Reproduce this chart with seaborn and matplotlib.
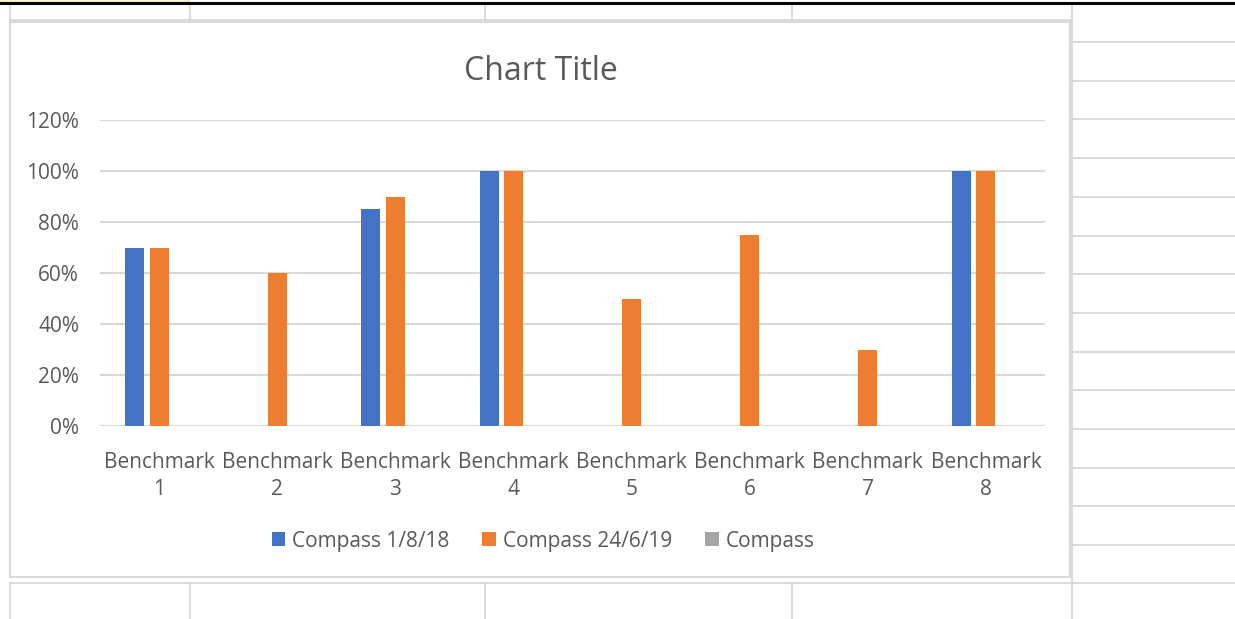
import numpy as np
import pandas as pd
import matplotlib
matplotlib.use('Agg')
import matplotlib.pyplot as plt
import seaborn as sns
from matplotlib.lines import Line2D
from matplotlib.patches import Rectangle
from matplotlib.ticker import PercentFormatter

# data
categories = ['Benchmark\n1', 'Benchmark\n2', 'Benchmark\n3', 'Benchmark\n4',
              'Benchmark\n5', 'Benchmark\n6', 'Benchmark\n7', 'Benchmark\n8']
compass_1_8_18 = [0.70, np.nan, 0.85, 1.00, np.nan, np.nan, np.nan, 1.00]
compass_24_6_19 = [0.70, 0.60, 0.90, 1.00, 0.50, 0.75, 0.30, 1.00]
compass = [np.nan] * 8
series_names = ['Compass 1/8/18', 'Compass 24/6/19', 'Compass']
series_colors = ['#4472C4', '#ED7D31', '#A5A5A5']

W, H = 1235, 619


def px(x, y):
    # pixel coords (top-left origin) -> figure fraction
    return x / W, 1 - y / H


def sheet_line(fig, x0, y0, x1, y1, color='#d4d4d4', lw=1.2, z=0):
    a = px(x0, y0)
    b = px(x1, y1)
    fig.add_artist(Line2D([a[0], b[0]], [a[1], b[1]], color=color, lw=lw,
                          transform=fig.transFigure, zorder=z))


def main():
    df = pd.DataFrame({
        'category': categories * 3,
        'series': np.repeat(series_names, len(categories)),
        'value': compass_1_8_18 + compass_24_6_19 + compass,
    })

    sns.set_style('white')
    plt.rcParams['font.family'] = ['Open Sans', 'DejaVu Sans']

    fig = plt.figure(figsize=(W / 100, H / 100), dpi=100)

    # spreadsheet background
    fig.add_artist(Rectangle(px(0, 3), 190 / W, 3 / H, transform=fig.transFigure,
                             facecolor='#fdf0c8', edgecolor='none', zorder=0))
    sheet_line(fig, 0, 3, W, 3, color='black', lw=2.2, z=1)
    for x in [10, 190, 485, 792]:
        sheet_line(fig, x, 3, x, 20)
        sheet_line(fig, x, 583, x, H)
    sheet_line(fig, 1072, 3, 1072, H)
    sheet_line(fig, 10, 20, 1072, 20)
    sheet_line(fig, 10, 583, W, 583)
    for y in [42, 81, 119, 158, 197, 236, 274, 313, 352, 390, 429, 468, 506, 545]:
        sheet_line(fig, 1072, y, W, y)

    # chart area
    fig.add_artist(Rectangle(px(10, 577), 1060 / W, 555 / H, transform=fig.transFigure,
                             facecolor='white', edgecolor='#d9d9d9', lw=1.5, zorder=1))

    l, b = px(100, 426)
    r, t = px(1045, 120)
    ax = fig.add_axes([l, b, r - l, t - b], zorder=2)
    ax.patch.set_alpha(0)

    sns.barplot(data=df, x='category', y='value', hue='series', hue_order=series_names,
                palette=series_colors, order=categories, errorbar=None,
                width=0.62, gap=0.22, linewidth=0, saturation=1, ax=ax)

    ax.set_ylim(0, 1.2)
    ax.set_xlim(-0.5, 7.5)
    ax.set_yticks(np.arange(0, 1.21, 0.2))
    ax.yaxis.set_major_formatter(PercentFormatter(1.0, decimals=0))
    ax.grid(axis='y', color='#d9d9d9', lw=1.5)
    ax.set_axisbelow(True)
    for s in ax.spines.values():
        s.set_visible(False)
    ax.set(xlabel='', ylabel='')
    ax.tick_params(axis='both', length=0, labelsize=15, labelcolor='#595959')
    ax.tick_params(axis='y', pad=15)
    ax.tick_params(axis='x', pad=18.5)
    for lab in ax.get_xticklabels():
        lab.set_linespacing(1.4)

    fig.text(541 / W, 1 - 71 / H, 'Chart Title', ha='center', va='center',
             fontsize=23, color='#595959')

    handles, labels = ax.get_legend_handles_labels()
    ax.legend(handles, labels, loc='center', bbox_to_anchor=(px(543, 541)),
              bbox_transform=fig.transFigure, ncol=3, frameon=False,
              fontsize=15, labelcolor='#595959', handlelength=0.67, handleheight=0.67,
              handletextpad=0.3, columnspacing=1.6)

    fig.savefig('out.png', dpi=100)


if __name__ == "__main__":
    main()
